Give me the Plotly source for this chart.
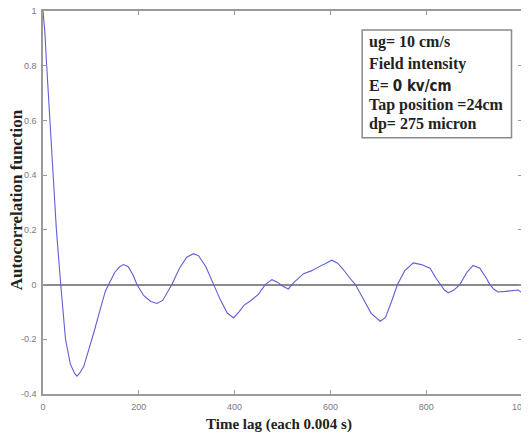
import plotly.graph_objects as go

# Autocorrelation
lag = [0, 2, 4, 7, 11, 16, 22, 28, 37, 47, 57, 66, 71, 76, 85, 95, 106, 118, 130, 137,
       150, 160, 168, 178, 188, 196, 210, 225, 238, 250, 260, 269, 285, 300, 314, 325,
       340, 356, 370, 385, 398, 410, 420, 433, 450, 464, 472, 478, 490, 500, 512, 525,
       544, 560, 572, 590, 603, 615, 627, 640, 652, 668, 685, 704, 715, 728, 740, 755,
       773, 790, 808, 820, 829, 838, 846, 858, 870, 885, 898, 912, 925, 933, 942, 950,
       965, 982, 992, 1000]
acf = [1.0, 0.97, 0.92, 0.82, 0.70, 0.58, 0.40, 0.20, 0.0, -0.20, -0.29, -0.325, -0.335,
       -0.325, -0.30, -0.245, -0.176, -0.10, -0.025, 0.0,
       0.045, 0.065, 0.073, 0.065, 0.035, 0.0, -0.04, -0.062, -0.069, -0.058, -0.03, 0.0,
       0.06, 0.10, 0.113, 0.105, 0.065, 0.0, -0.055, -0.105, -0.122, -0.098, -0.075,
       -0.06, -0.035, 0.0, 0.012, 0.018, 0.008, -0.005, -0.016, 0.01,
       0.04, 0.05, 0.061, 0.078, 0.089, 0.078, 0.055, 0.025, 0.0, -0.05, -0.105, -0.134,
       -0.12, -0.06, 0.0, 0.05, 0.079, 0.073, 0.06, 0.025, 0.0, -0.02, -0.03, -0.02, 0.0,
       0.045, 0.07, 0.06, 0.025, 0.0, -0.018, -0.027, -0.025, -0.021, -0.02, -0.03]

x_tick_vals = [0, 200, 400, 600, 800, 1000]
x_tick_text = ["0", "200", "400", "600", "800", "1000"]
y_tick_vals = [-0.4, -0.2, 0, 0.2, 0.4, 0.6, 0.8, 1]
y_tick_text = ["-0.4", "-0.2", "0", "0.2", "0.4", "0.6", "0.8", "1"]

info_lines = [
    "ug= 10 cm/s",
    "Field intensity",
    "E= <span style=\"font-family:'DejaVu Sans Condensed','Liberation Sans';font-size:15px\">0 kv/cm</span>",
    "Tap position =24cm",
    "dp= 275 micron",
]
info_y_px = [42, 64, 86, 105, 124]

x_title = "Time lag (each 0.004 s)"
y_title = "Autocorrelation function"

# The page body adds an 8px offset; work in reference-pixel coordinates.
OFF = 8
W, H = 529 - OFF, 438 - OFF
PL, PR, PT, PB = 42.5, 522, 11, 394.5  # plot area edges in reference pixels
L, R, T, B = PL - OFF, W + OFF - PR, PT - OFF, H + OFF - PB
plot_w = PR - PL
plot_h = PB - PT

fig = go.Figure()
fig.add_trace(go.Scatter(x=lag, y=acf, mode="lines",
                         line=dict(color="#5f5fd6", width=1.1),
                         showlegend=False, hoverinfo="skip"))

axis_common = dict(showline=True, linecolor="#9a9a9a", linewidth=1.5, mirror="ticks",
                   ticks="inside", ticklen=4, tickcolor="#9a9a9a", tickwidth=1,
                   showgrid=False, automargin=False, ticklabeloverflow="allow",
                   tickfont=dict(family="Liberation Sans", size=9, color="#7a7a7a"))

fig.update_layout(
    width=W, height=H,
    margin=dict(l=L, r=R, t=T, b=B, autoexpand=False),
    paper_bgcolor="white", plot_bgcolor="white",
    xaxis=dict(range=[0, 1000], tickvals=x_tick_vals, ticktext=x_tick_text,
               zeroline=False, ticklabelstandoff=3, **axis_common),
    yaxis=dict(range=[-0.4, 1], tickvals=y_tick_vals, ticktext=y_tick_text,
               zeroline=True, zerolinecolor="#8a8a8a", zerolinewidth=1.5,
               ticklabelstandoff=3, **axis_common),
)

def px_to_paper_x(px):
    return (px - PL) / plot_w

def px_to_paper_y(py):
    return (PB - py) / plot_h

# info box
fig.add_shape(type="rect", xref="paper", yref="paper",
              x0=px_to_paper_x(362), x1=px_to_paper_x(511.5),
              y0=px_to_paper_y(138), y1=px_to_paper_y(30),
              line=dict(color="#8a8a8a", width=1.5), fillcolor="white", layer="above")

for txt, ypx in zip(info_lines, info_y_px):
    fig.add_annotation(text="<b>" + txt + "</b>", xref="paper", yref="paper",
                       x=px_to_paper_x(367), y=px_to_paper_y(ypx),
                       xanchor="left", yanchor="middle", showarrow=False,
                       font=dict(family="Liberation Serif", size=16, color="#222222"))

fig.add_annotation(text="<b>" + x_title + "</b>", xref="paper", yref="paper",
                   x=px_to_paper_x(279), y=px_to_paper_y(425),
                   xanchor="center", yanchor="middle", showarrow=False,
                   font=dict(family="Liberation Serif", size=15, color="#222222"))
fig.add_annotation(text="<b>" + y_title + "</b>", xref="paper", yref="paper",
                   x=px_to_paper_x(16), y=px_to_paper_y(200), textangle=-90,
                   xanchor="center", yanchor="middle", showarrow=False,
                   font=dict(family="Liberation Serif", size=17, color="#222222"))

fig.write_html("out.html")
